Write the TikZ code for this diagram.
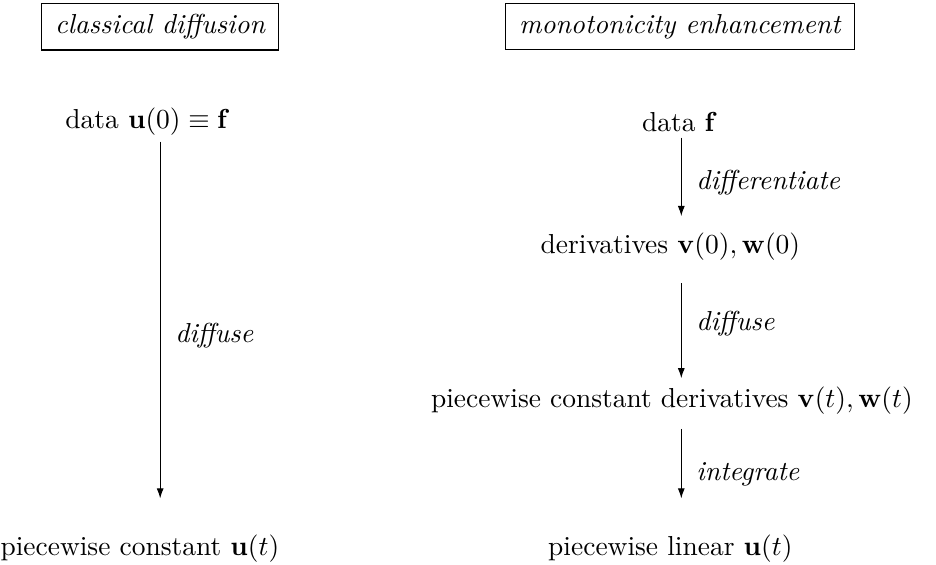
\documentclass[tikz,border=0pt]{standalone}
\usepackage{amsmath,amssymb}
\usepackage{tikz}
\usetikzlibrary{arrows.meta}

\begin{document}
\begin{tikzpicture}[x=1cm,y=1cm]
	\useasboundingbox (0,0) rectangle (11.98,7.22);
	\tikzset{title/.style={draw,inner xsep=5pt,inner ysep=4pt},
		stage/.style={inner sep=2pt},
		flow/.style={-{Latex[length=1.3mm,width=0.9mm]}}}
    \coordinate (lcol) at (2.05,0);
    \coordinate (rcol) at (8.72,0);
    % headings
    \node[title] (classical) at (2.05,6.88) {\itshape classical diffusion};
    \node[title] (monotone) at (8.70,6.88) {\itshape monotonicity enhancement};
    % left column
    \node[stage] (ldata) at (1.89,5.66) {data $\mathbf{u}(0)\equiv\mathbf{f}$};
    \node[stage] (lconst) at (1.79,0.20) {piecewise constant $\mathbf{u}(t)$};
    \draw [flow,shorten >=11pt] (ldata.south -| lcol) -- node[right=2pt] {\itshape diffuse} (lconst.north -| lcol);
    % right column
    \node[stage] (rdata) at (8.70,5.66) {data $\mathbf{f}$};
    \node[stage] (deriv) at (8.58,4.06) {derivatives $\mathbf{v}(0),\mathbf{w}(0)$};
    \node[stage] (pcderiv) at (8.60,2.09) {piecewise constant derivatives $\mathbf{v}(t),\mathbf{w}(t)$};
    \node[stage] (rlinear) at (8.58,0.20) {piecewise linear $\mathbf{u}(t)$};
    \draw [flow,shorten >=4pt] (rdata.south -| rcol) -- node[right=2pt] {\itshape differentiate} (deriv.north -| rcol);
    \draw [flow,shorten <=6pt,shorten >=1pt] (deriv.south -| rcol) -- node[right=2pt] {\itshape diffuse} (pcderiv.north -| rcol);
    \draw [flow,shorten <=3pt,shorten >=11pt] (pcderiv.south -| rcol) -- node[right=2pt] {\itshape integrate} (rlinear.north -| rcol);
\end{tikzpicture}
\end{document}
